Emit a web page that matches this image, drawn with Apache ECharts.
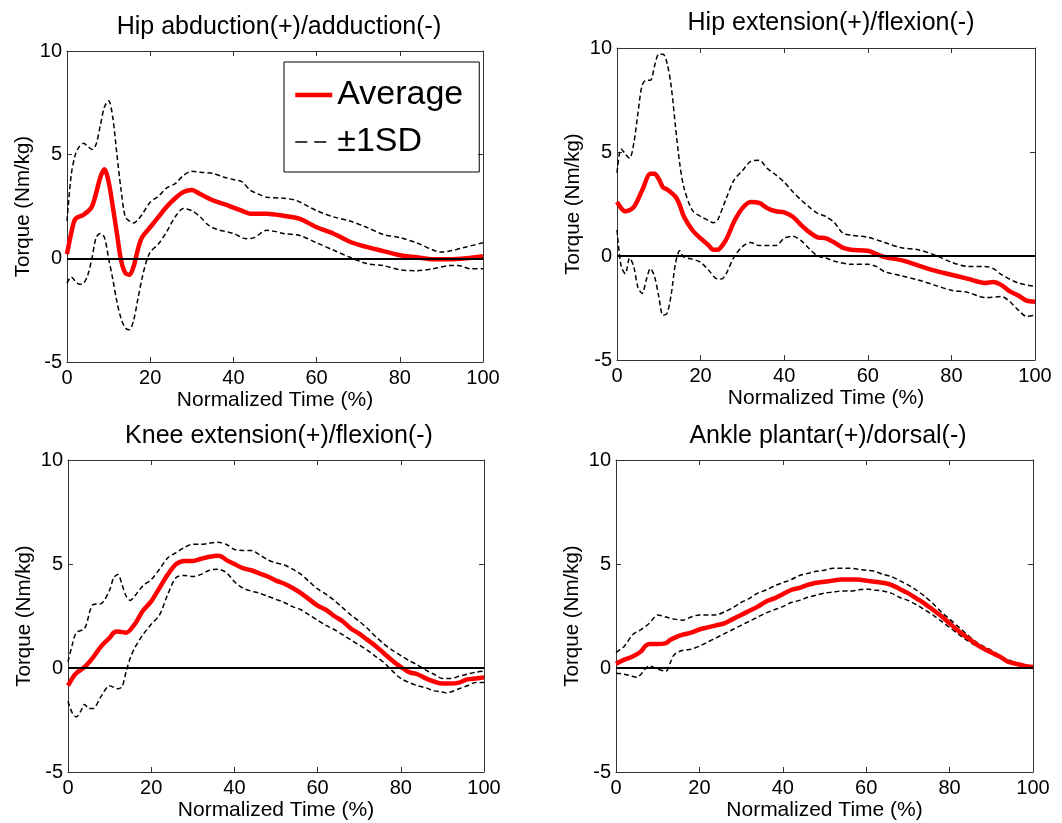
<!DOCTYPE html>
<html>
<head>
<meta charset="utf-8">
<script src="https://cdn.jsdelivr.net/npm/echarts@6/dist/echarts.min.js"></script>
<style>
  html, body { margin: 0; padding: 0; background: #fff; }
  #chart { width: 1062px; height: 823px; }
</style>
</head>
<body>
<div id="chart"></div>
<script>
// panel titles
const titles = [
  'Hip abduction(+)/adduction(-)',
  'Hip extension(+)/flexion(-)',
  'Knee extension(+)/flexion(-)',
  'Ankle plantar(+)/dorsal(-)'
];
const xTicks = [0, 20, 40, 60, 80, 100];
const yTicks = [-5, 0, 5, 10];

// hip abduction/adduction, [time %, Nm/kg]
const hipAbdAvg = [[0,0.2],[1,1.2],[2,1.9],[4,2.1],[6,2.5],[8,3.9],[9,4.3],[10,3.7],[11,2.5],[12,1.2],[13,-0.1],[14,-0.7],[15,-0.8],[16,-0.4],[17,0.4],[18,1.0],[20,1.5],[22,2.0],[24,2.5],[26,2.9],[28,3.2],[30,3.3],[32,3.1],[35,2.8],[38,2.6],[40,2.45],[42,2.3],[44,2.15],[48,2.15],[52,2.05],[56,1.9],[60,1.5],[64,1.2],[68,0.8],[72,0.55],[76,0.35],[80,0.15],[84,0.05],[88,-0.05],[92,-0.05],[96,0],[100,0.1]];
const hipAbdUp = [[0,1.8],[1,4.0],[2,5.0],[3,5.4],[4,5.55],[5,5.4],[6,5.25],[7,5.5],[8,6.4],[9,7.3],[10,7.6],[11,6.8],[12,5.0],[13,3.3],[14,2.0],[15,1.8],[16,1.7],[17,1.85],[18,2.1],[20,2.7],[22,3.0],[24,3.4],[26,3.6],[28,4.0],[30,4.2],[32,4.15],[35,4.1],[38,3.9],[40,3.8],[42,3.7],[44,3.3],[46,3.1],[48,2.95],[52,2.9],[55,2.8],[58,2.5],[60,2.3],[64,2.0],[68,1.8],[72,1.5],[76,1.15],[80,1.0],[84,0.75],[88,0.4],[90,0.3],[92,0.35],[96,0.55],[100,0.75]];
const hipAbdLow = [[0,-1.2],[1,-0.9],[2,-1.1],[3,-1.25],[4,-1.2],[5,-0.8],[6,0.0],[7,1.0],[8,1.2],[9,1.0],[10,0.0],[11,-1.0],[12,-2.1],[13,-2.9],[14,-3.35],[15,-3.45],[16,-3.0],[17,-2.0],[18,-1.0],[19,-0.2],[20,0.3],[22,0.7],[24,1.3],[26,2.0],[28,2.4],[30,2.3],[32,2.0],[34,1.6],[36,1.4],[40,1.2],[43,0.95],[45,1.0],[48,1.35],[50,1.3],[52,1.2],[56,1.1],[60,0.75],[64,0.4],[68,0.05],[72,-0.25],[76,-0.35],[80,-0.55],[84,-0.6],[88,-0.5],[92,-0.35],[94,-0.35],[97,-0.5],[100,-0.5]];

// hip extension/flexion
const hipExtAvg = [[0,2.6],[1,2.3],[2,2.15],[4,2.35],[6,3.15],[8,3.95],[9,3.95],[10,3.7],[11,3.3],[12,3.2],[14,2.85],[15,2.45],[16,1.9],[18,1.25],[20,0.85],[22,0.5],[23,0.3],[24,0.3],[26,0.75],[28,1.65],[30,2.3],[32,2.6],[34,2.55],[36,2.3],[38,2.15],[40,2.1],[42,1.9],[44,1.5],[46,1.15],[48,0.9],[50,0.85],[52,0.65],[54,0.4],[56,0.3],[60,0.25],[62,0.1],[64,-0.05],[68,-0.2],[72,-0.45],[76,-0.7],[80,-0.9],[84,-1.1],[88,-1.3],[90,-1.25],[92,-1.4],[94,-1.7],[96,-1.9],[98,-2.15],[100,-2.2]];
const hipExtUp = [[0,4.0],[1,5.15],[2,4.9],[3,4.7],[4,5.4],[5,6.85],[6,8.2],[7,8.45],[8,8.45],[9,9.15],[10,9.7],[11,9.7],[12,9.25],[13,8.1],[14,6.2],[15,4.45],[16,3.3],[18,2.2],[20,1.9],[22,1.7],[23,1.6],[24,1.7],[26,2.7],[28,3.65],[30,4.1],[32,4.55],[34,4.6],[36,4.2],[38,3.9],[40,3.55],[42,3.1],[44,2.7],[46,2.35],[48,2.05],[50,1.9],[52,1.6],[54,1.1],[56,1.0],[60,0.9],[64,0.65],[68,0.4],[72,0.3],[76,0.05],[80,-0.3],[84,-0.5],[88,-0.5],[90,-0.6],[92,-0.9],[96,-1.3],[100,-1.45]];
const hipExtLow = [[0,1.25],[1,-0.5],[2,-0.85],[3,-0.1],[4,-0.5],[5,-1.5],[6,-1.8],[7,-1.15],[8,-0.6],[9,-1.0],[10,-1.95],[11,-2.85],[12,-2.75],[13,-1.8],[14,-0.35],[15,0.25],[16,-0.05],[18,-0.15],[20,-0.3],[22,-0.7],[24,-1.1],[25,-1.1],[26,-0.9],[28,-0.05],[30,0.45],[32,0.65],[34,0.5],[36,0.5],[38,0.5],[40,0.85],[42,0.95],[44,0.75],[46,0.35],[48,0.0],[50,-0.1],[52,-0.25],[56,-0.4],[60,-0.4],[62,-0.5],[64,-0.75],[68,-0.95],[72,-1.15],[76,-1.4],[80,-1.65],[84,-1.75],[88,-2.0],[92,-1.95],[94,-2.2],[96,-2.6],[98,-2.9],[100,-2.85]];

// knee extension/flexion
const kneeAvg = [[0,-0.85],[1,-0.5],[2,-0.25],[4,0.05],[6,0.5],[8,1.05],[10,1.45],[11,1.7],[12,1.75],[14,1.7],[16,2.1],[18,2.75],[20,3.2],[22,3.85],[24,4.5],[26,5.0],[28,5.15],[30,5.15],[32,5.25],[34,5.35],[36,5.4],[37,5.35],[38,5.2],[40,5.0],[42,4.8],[44,4.7],[46,4.55],[48,4.4],[50,4.2],[52,4.05],[54,3.85],[56,3.6],[58,3.3],[60,3.0],[62,2.8],[64,2.5],[66,2.25],[68,1.9],[70,1.65],[72,1.35],[74,1.05],[76,0.7],[78,0.35],[80,0.05],[82,-0.2],[84,-0.3],[86,-0.5],[88,-0.65],[90,-0.75],[92,-0.75],[94,-0.7],[96,-0.55],[98,-0.5],[100,-0.45]];
const kneeUp = [[0,0.3],[1,1.1],[2,1.7],[4,1.9],[6,3.05],[8,3.1],[10,3.75],[11,4.35],[12,4.5],[13,4.0],[14,3.45],[15,3.25],[16,3.45],[18,3.95],[20,4.25],[22,4.75],[24,5.3],[26,5.55],[28,5.8],[30,5.95],[32,5.95],[34,6.0],[36,6.05],[38,5.95],[40,5.7],[42,5.65],[44,5.65],[46,5.45],[48,5.2],[50,5.05],[52,4.95],[54,4.75],[56,4.5],[58,4.15],[60,3.8],[62,3.55],[64,3.25],[66,2.9],[68,2.55],[70,2.25],[72,1.9],[74,1.5],[76,1.15],[78,0.85],[80,0.6],[82,0.35],[84,0.15],[86,-0.1],[88,-0.3],[90,-0.5],[92,-0.5],[94,-0.4],[96,-0.3],[98,-0.2],[100,-0.15]];
const kneeLow = [[0,-1.6],[1,-2.15],[2,-2.35],[3,-2.1],[4,-1.75],[5,-1.95],[6,-1.95],[8,-1.35],[10,-0.85],[12,-1.0],[13,-0.9],[14,-0.15],[15,0.5],[16,0.95],[18,1.6],[20,2.1],[22,2.55],[24,3.55],[26,4.35],[28,4.45],[30,4.4],[32,4.5],[34,4.7],[36,4.75],[38,4.6],[40,4.15],[42,3.85],[44,3.7],[46,3.6],[48,3.45],[50,3.3],[52,3.15],[54,2.95],[56,2.8],[58,2.55],[60,2.3],[62,2.05],[64,1.85],[66,1.6],[68,1.35],[70,1.1],[72,0.85],[74,0.55],[76,0.25],[78,-0.15],[80,-0.5],[82,-0.7],[84,-0.85],[86,-0.95],[88,-1.1],[90,-1.15],[91,-1.2],[92,-1.15],[94,-1.0],[96,-0.85],[98,-0.7],[100,-0.7]];

// ankle plantar/dorsal
const ankleAvg = [[0,0.2],[2,0.4],[4,0.55],[6,0.8],[7,1.05],[8,1.15],[10,1.15],[12,1.2],[13,1.35],[14,1.45],[16,1.6],[18,1.7],[20,1.85],[22,1.95],[24,2.05],[26,2.15],[28,2.35],[30,2.55],[32,2.75],[34,2.95],[36,3.2],[38,3.35],[40,3.55],[42,3.75],[44,3.85],[46,4.0],[48,4.1],[50,4.15],[52,4.2],[54,4.25],[56,4.25],[58,4.25],[60,4.2],[62,4.15],[64,4.1],[66,4.0],[68,3.8],[70,3.6],[72,3.35],[74,3.1],[76,2.8],[78,2.5],[80,2.15],[82,1.8],[84,1.5],[86,1.2],[88,0.95],[90,0.75],[92,0.55],[94,0.3],[96,0.2],[98,0.1],[100,0.05]];
const ankleUp = [[0,0.75],[2,1.05],[4,1.6],[6,1.85],[8,2.15],[10,2.55],[12,2.45],[14,2.35],[16,2.3],[18,2.45],[20,2.55],[22,2.55],[24,2.55],[26,2.7],[28,2.9],[30,3.15],[32,3.35],[34,3.6],[36,3.75],[38,3.95],[40,4.1],[42,4.25],[44,4.45],[46,4.55],[48,4.65],[50,4.7],[52,4.8],[54,4.8],[56,4.8],[58,4.75],[60,4.7],[62,4.65],[64,4.5],[66,4.4],[68,4.2],[70,4.0],[72,3.75],[74,3.45],[76,3.1],[78,2.7],[80,2.35],[82,2.0],[84,1.65],[86,1.3],[88,1.05],[90,0.85],[92,0.6],[94,0.4],[96,0.25],[98,0.15],[100,0.05]];
const ankleLow = [[0,-0.25],[2,-0.3],[4,-0.4],[5,-0.45],[6,-0.3],[7,-0.05],[8,0.1],[10,-0.05],[12,-0.15],[13,0.25],[14,0.65],[16,0.85],[18,0.9],[20,1.05],[22,1.25],[24,1.45],[26,1.65],[28,1.85],[30,2.05],[32,2.25],[34,2.45],[36,2.65],[38,2.8],[40,2.95],[42,3.15],[44,3.25],[46,3.4],[48,3.5],[50,3.6],[52,3.65],[54,3.7],[56,3.7],[58,3.75],[60,3.8],[62,3.75],[64,3.7],[66,3.6],[68,3.4],[70,3.25],[72,3.05],[74,2.8],[76,2.55],[78,2.25],[80,1.95],[82,1.65],[84,1.35],[86,1.1],[88,0.95],[90,0.7],[92,0.5],[94,0.3],[96,0.15],[98,0.05],[100,0.0]];

const panels = [
  { avg: hipAbdAvg, up: hipAbdUp, low: hipAbdLow, grid: { left: 67, top: 51, width: 416, height: 311 }, tx: 274, ty: 10 },
  { avg: hipExtAvg, up: hipExtUp, low: hipExtLow, grid: { left: 617, top: 48, width: 418, height: 312 }, tx: 826, ty: 6 },
  { avg: kneeAvg, up: kneeUp, low: kneeLow, grid: { left: 68, top: 460, width: 416, height: 312 }, tx: 274, ty: 419 },
  { avg: ankleAvg, up: ankleUp, low: ankleLow, grid: { left: 616, top: 460, width: 417, height: 312 }, tx: 823, ty: 419 }
];

const FONT = 'Liberation Sans, Arial, Helvetica, sans-serif';
const boxColor = '#333';

const chart = echarts.init(document.getElementById('chart'));

const grid = [], xAxis = [], yAxis = [], series = [], title = [];

panels.forEach((p, i) => {
  grid.push(Object.assign({ containLabel: false }, p.grid));
  title.push({
    text: titles[i], left: p.tx, top: p.ty, textAlign: 'center',
    textStyle: { fontFamily: FONT, fontSize: 25, fontWeight: 'normal', color: '#000' }
  });
  const baseX = {
    type: 'value', gridIndex: i, min: xTicks[0], max: xTicks[xTicks.length - 1], interval: 20,
    splitLine: { show: false },
    axisLine: { show: true, onZero: false, lineStyle: { color: boxColor, width: 1 } },
    axisTick: { show: true, inside: true, length: 5, lineStyle: { color: boxColor } }
  };
  xAxis.push(Object.assign({}, baseX, {
    position: 'bottom',
    name: 'Normalized Time (%)', nameLocation: 'middle', nameGap: 28,
    nameTextStyle: { fontFamily: FONT, fontSize: 21, color: '#000' },
    axisLabel: { fontFamily: FONT, fontSize: 20, color: '#000', margin: 6 }
  }));
  xAxis.push(Object.assign({}, baseX, { position: 'top', axisLabel: { show: false } }));
  const baseY = {
    type: 'value', gridIndex: i, min: yTicks[0], max: yTicks[yTicks.length - 1], interval: 5,
    splitLine: { show: false },
    axisLine: { show: true, onZero: false, lineStyle: { color: boxColor, width: 1 } },
    axisTick: { show: true, inside: true, length: 5, lineStyle: { color: boxColor } }
  };
  yAxis.push(Object.assign({}, baseY, {
    position: 'left',
    name: 'Torque (Nm/kg)', nameLocation: 'middle', nameGap: 33, nameRotate: 90,
    nameTextStyle: { fontFamily: FONT, fontSize: 20.5, color: '#000' },
    axisLabel: { fontFamily: FONT, fontSize: 20, color: '#000', margin: 5 }
  }));
  yAxis.push(Object.assign({}, baseY, { position: 'right', axisLabel: { show: false } }));

  const xi = i * 2, yi = i * 2;
  const sdStyle = { color: '#000', width: 1.5, type: [5, 3] };
  series.push({
    name: '±1SD', type: 'line', xAxisIndex: xi, yAxisIndex: yi, data: p.up,
    showSymbol: false, symbol: 'none', smooth: 0.3, color: '#000', lineStyle: sdStyle, z: 3,
    markLine: {
      silent: true, symbol: 'none', label: { show: false },
      lineStyle: { color: '#000', width: 2, type: 'solid' },
      data: [{ yAxis: 0 }]
    }
  });
  series.push({
    name: '±1SD', type: 'line', xAxisIndex: xi, yAxisIndex: yi, data: p.low,
    showSymbol: false, symbol: 'none', smooth: 0.3, color: '#000', lineStyle: sdStyle, z: 3
  });
  series.push({
    name: 'Average', type: 'line', xAxisIndex: xi, yAxisIndex: yi, data: p.avg,
    showSymbol: false, symbol: 'none', smooth: 0.3, color: '#ff0000',
    lineStyle: { color: '#ff0000', width: 4.5 }, z: 4
  });
});

chart.setOption({
  animation: false,
  title: title,
  legend: {
    data: [
      { name: 'Average', lineStyle: { width: 4.5 } },
      { name: '±1SD', lineStyle: { type: [12, 7], width: 1.5 } }
    ],
    orient: 'vertical', left: 284, top: 62,
    itemWidth: 37, itemHeight: 14, itemGap: 13,
    padding: [16, 16, 13, 9],
    borderColor: '#000', borderWidth: 1,
    itemStyle: { opacity: 0 },
    textStyle: { fontFamily: FONT, fontSize: 34, color: '#000' }
  },
  grid: grid,
  xAxis: xAxis,
  yAxis: yAxis,
  series: series
});
</script>
</body>
</html>
